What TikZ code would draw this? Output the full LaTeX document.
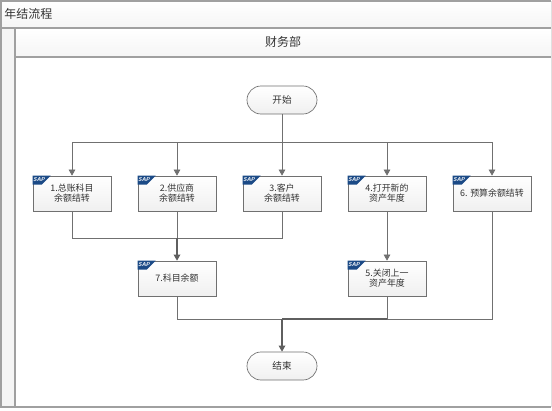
\documentclass[tikz,border=0pt]{standalone}
\usepackage{fontspec}
\setmainfont{Noto Sans CJK SC}
\usetikzlibrary{arrows.meta}
\definecolor{framegray}{HTML}{A0A0A0}
\definecolor{linegray}{HTML}{707070}
\definecolor{textgray}{HTML}{333333}
\definecolor{sapblue}{HTML}{1B4A86}
\tikzset{
  band/.style={top color=white, bottom color=black!4},
  bandline/.style={draw=framegray, line width=1pt},
  bandtext/.style={text=textgray, font=\fontsize{9}{10}\selectfont},
  stepbox/.style={draw=linegray, line width=0.5pt, top color=white, bottom color=black!6,
    minimum width=58.5pt, minimum height=26.25pt, inner sep=0pt, align=center,
    text=textgray, font=\fontsize{6.7}{7.6}\selectfont},
  terminal/.style={draw=linegray, line width=0.5pt, rounded corners=10.5pt, top color=white, bottom color=black!6,
    minimum width=52.5pt, minimum height=21pt, inner sep=0pt,
    text=textgray, font=\fontsize{7.2}{8}\selectfont},
  flow/.style={draw=linegray, line width=0.6pt},
  heavyflow/.style={draw=linegray!85!black, line width=0.9pt},
  flowarrow/.style={flow, -{Triangle[length=4.6pt,width=5pt]}},
  saplabel/.style={text=white, inner sep=0pt, font=\sffamily\bfseries\itshape\fontsize{4.2}{5}\selectfont}
}
\begin{document}
\begin{tikzpicture}[x=0.75pt,y=-0.75pt]
  \useasboundingbox (0,0) rectangle (552,410);
  % Frame and header bands
  \fill[white] (0,0) rectangle (552,410);
  \fill[black!4] (2,29) rectangle (15,407);
  \fill[band] (1,1) rectangle (552,28);
  \fill[band] (15,29) rectangle (552,57);
  \draw[bandline] (551,1) -- (1,1) -- (1,407) -- (551,407);
  \draw[bandline] (1,28) -- (551,28);
  \draw[bandline] (15,57) -- (551,57);
  \draw[bandline] (15,29) -- (15,407);
  \draw[black!12, line width=0.5pt] (551.5,1) -- (551.5,407);
  \node[bandtext] (title) at (28.5,14) {年结流程};
  \node[bandtext] (dept) at (283,42) {财务部};
  % Terminals
  \node[terminal] (start) at (282,100) {开始};
  \node[terminal] (finish) at (282,366) {结束};
  % Steps
  \node[stepbox] (box1) at (72,193.5) {1.总账科目\\余额结转};
  \node[stepbox] (box2) at (177,193.5) {2.供应商\\余额结转};
  \node[stepbox] (box3) at (282,193.5) {3.客户\\余额结转};
  \node[stepbox] (box4) at (387,193.5) {4.打开新的\\资产年度};
  \node[stepbox] (box6) at (492,193.5) {6. 预算余额结转};
  \node[stepbox] (box7) at (177,278.5) {7.科目余额};
  \node[stepbox] (box5) at (387,278.5) {5.关闭上一\\资产年度};
  % SAP flags
  \foreach \b in {box1,box2,box3,box4,box5,box6,box7} {
    \fill[sapblue] (\b.north west) -- ++(18,0) -- ++(-9,9) -- ++(-9,0) -- cycle;
    \node[saplabel] (sap\b) at ([shift={(6.5,4)}]\b.north west) {SAP};
  }
  % Connectors
  \coordinate (split) at (282,142);
  \coordinate (joinA) at (177,238);
  \coordinate (joinB) at (282,319);
  \coordinate (joinC) at (387,319);
  \draw[flow] (start) -- (split);
  \foreach \b in {box1,box2,box3,box4,box6}
    \draw[flowarrow] (split) -| (\b.north);
  \draw[flow] (box1.south) |- (joinA);
  \draw[flow] (box3.south) |- (joinA);
  \draw[flow] (box2) -- (joinA);
  \draw[flowarrow, heavyflow] (joinA) -- (box7);
  \draw[flowarrow] (box4) -- (box5);
  \draw[flow] (box7.south) |- (joinB);
  \draw[flow] (box6.south) |- (joinC);
  \draw[flow] (box5.south) -- (joinC);
  \draw[heavyflow] (joinC) -- (joinB);
  \draw[flowarrow, heavyflow] (joinB) -- (finish);
\end{tikzpicture}
\end{document}
